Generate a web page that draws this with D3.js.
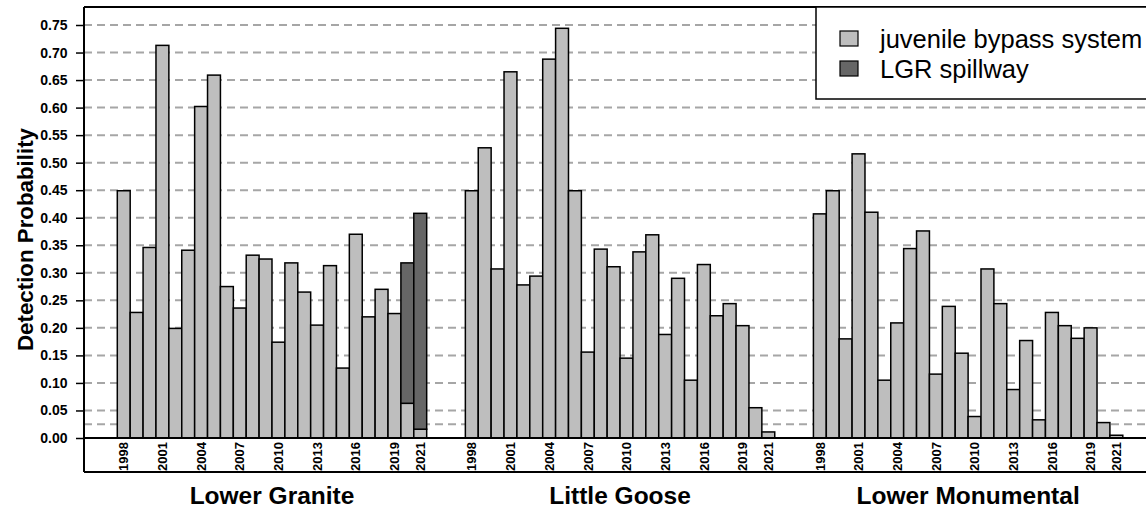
<!DOCTYPE html>
<html>
<head>
<meta charset="utf-8">
<script src="https://cdn.jsdelivr.net/npm/d3@7"></script>
<style>
  html, body { margin: 0; padding: 0; background: #fff; }
  svg { display: block; font-family: "Liberation Sans", Arial, sans-serif; }
</style>
</head>
<body>
<svg id="chart" width="1146" height="510"></svg>
<script>
// ---------------- data ----------------
const years = d3.range(1998, 2022);
const dams = ["Lower Granite", "Little Goose", "Lower Monumental"];
const yearTickLabels = [1998, 2001, 2004, 2007, 2010, 2013, 2016, 2019, 2021];
const yTicks = [0, 0.05, 0.10, 0.15, 0.20, 0.25, 0.30, 0.35, 0.40, 0.45, 0.50, 0.55, 0.60, 0.65, 0.70, 0.75];
const extraGrid = [0.025];

const jbsLowerGranite = [0.449, 0.228, 0.346, 0.713, 0.199, 0.341, 0.602, 0.659, 0.275, 0.236, 0.332, 0.325,
                         0.174, 0.318, 0.265, 0.205, 0.313, 0.127, 0.370, 0.220, 0.270, 0.226, 0.063, 0.016];
const spillLowerGranite = [0, 0, 0, 0, 0, 0, 0, 0, 0, 0, 0, 0,
                           0, 0, 0, 0, 0, 0, 0, 0, 0, 0, 0.255, 0.392];
const jbsLittleGoose = [0.449, 0.527, 0.307, 0.665, 0.278, 0.294, 0.688, 0.744, 0.449, 0.156, 0.343, 0.311,
                        0.145, 0.338, 0.369, 0.188, 0.290, 0.105, 0.315, 0.222, 0.244, 0.204, 0.055, 0.011];
const jbsLowerMonumental = [0.407, 0.449, 0.180, 0.516, 0.410, 0.105, 0.209, 0.344, 0.376, 0.116, 0.239, 0.154,
                            0.039, 0.307, 0.244, 0.088, 0.177, 0.033, 0.228, 0.204, 0.181, 0.200, 0.028, 0.005];
const spillZeros = years.map(() => 0);

const seriesNames = ["juvenile bypass system", "LGR spillway"];
const seriesColors = ["#bebebe", "#666666"];

// --------------- build table ---------------
const jbsByDam = [jbsLowerGranite, jbsLittleGoose, jbsLowerMonumental];
const spillByDam = [spillLowerGranite, spillZeros, spillZeros];
const rows = [];
dams.forEach((dam, g) => {
  years.forEach((yr, i) => {
    rows.push({ dam, g, i, year: yr, slot: g * (years.length + 3) + i,
                jbs: jbsByDam[g][i], spill: spillByDam[g][i] });
  });
});

// --------------- layout ---------------
const svg = d3.select("#chart");
const plotLeft = 84, plotTop = 7, zeroY = 438, bottomFrame = 472, rightEdge = 1150;

const x = d3.scaleLinear().domain([0, 78]).range([117.3, 1122.8]);
const bw = x(1) - x(0);
const y = d3.scaleLinear().domain([0, 0.75]).range([zeroY, 25]);

// gridlines
svg.append("g").selectAll("line")
  .data(yTicks.filter(d => d > 0).concat(extraGrid))
  .join("line")
  .attr("x1", plotLeft).attr("x2", rightEdge)
  .attr("y1", d => y(d)).attr("y2", d => y(d))
  .attr("stroke", "#a6a6a6").attr("stroke-width", 2)
  .attr("stroke-dasharray", "8,5");

// bars: stacked jbs (bottom) + spillway (top)
const stack = d3.stack().keys(["jbs", "spill"])(rows);
const barG = svg.append("g");
stack.forEach((layer, k) => {
  barG.append("g").selectAll("rect")
    .data(layer.filter(d => d[1] - d[0] > 0))
    .join("rect")
    .attr("x", d => x(d.data.slot))
    .attr("width", bw)
    .attr("y", d => y(d[1]))
    .attr("height", d => y(d[0]) - y(d[1]))
    .attr("fill", seriesColors[k])
    .attr("stroke", "#000")
    .attr("stroke-width", 1.5);
});

// frame lines
const frame = svg.append("g").attr("stroke", "#000").attr("stroke-width", 2);
frame.append("line").attr("x1", plotLeft).attr("x2", rightEdge).attr("y1", plotTop).attr("y2", plotTop);
frame.append("line").attr("x1", plotLeft).attr("x2", plotLeft).attr("y1", plotTop).attr("y2", bottomFrame);
frame.append("line").attr("x1", plotLeft).attr("x2", rightEdge).attr("y1", zeroY).attr("y2", zeroY);
frame.append("line").attr("x1", plotLeft).attr("x2", rightEdge).attr("y1", bottomFrame).attr("y2", bottomFrame);

// y axis
const yAxis = d3.axisLeft(y).tickValues(yTicks).tickFormat(d3.format(".2f")).tickSize(8).tickPadding(8.5);
const yg = svg.append("g").attr("transform", `translate(${plotLeft},0)`).call(yAxis);
yg.select(".domain").remove();
yg.selectAll(".tick line").attr("stroke", "#000").attr("stroke-width", 1.5);
yg.selectAll(".tick text").attr("font-size", 14).attr("font-weight", "bold")
  .attr("fill", "#000").attr("font-family", "'Liberation Sans', Arial, sans-serif");

// y label
svg.append("text")
  .attr("transform", `translate(33,239.5) rotate(-90)`)
  .attr("text-anchor", "middle")
  .attr("font-size", 22.3).attr("font-weight", "bold")
  .text("Detection Probability");

// x year labels
svg.append("g").selectAll("text")
  .data(rows.filter(d => yearTickLabels.includes(d.year)))
  .join("text")
  .attr("transform", d => `translate(${x(d.slot) + bw / 2},442) rotate(-90)`)
  .attr("text-anchor", "end")
  .attr("dy", "0.36em")
  .attr("font-size", 13).attr("font-weight", "bold")
  .text(d => d.year);

// group labels
svg.append("g").selectAll("text")
  .data(dams)
  .join("text")
  .attr("x", (d, g) => (x(g * 27) + x(g * 27 + 24)) / 2)
  .attr("y", 504)
  .attr("text-anchor", "middle")
  .attr("font-size", 24.5).attr("font-weight", "bold")
  .text(d => d);

// legend
const lg = svg.append("g");
lg.append("rect").attr("x", 816).attr("y", plotTop).attr("width", 340).attr("height", 92)
  .attr("fill", "#fff").attr("stroke", "#000").attr("stroke-width", 1.5);
seriesNames.forEach((name, k) => {
  lg.append("rect").attr("x", 840).attr("y", 31 + k * 30).attr("width", 18).attr("height", 15)
    .attr("fill", seriesColors[k]).attr("stroke", "#000").attr("stroke-width", 1.2);
  lg.append("text").attr("x", 880).attr("y", 48 + k * 30)
    .attr("font-size", 25.5).text(name);
});
</script>
</body>
</html>
